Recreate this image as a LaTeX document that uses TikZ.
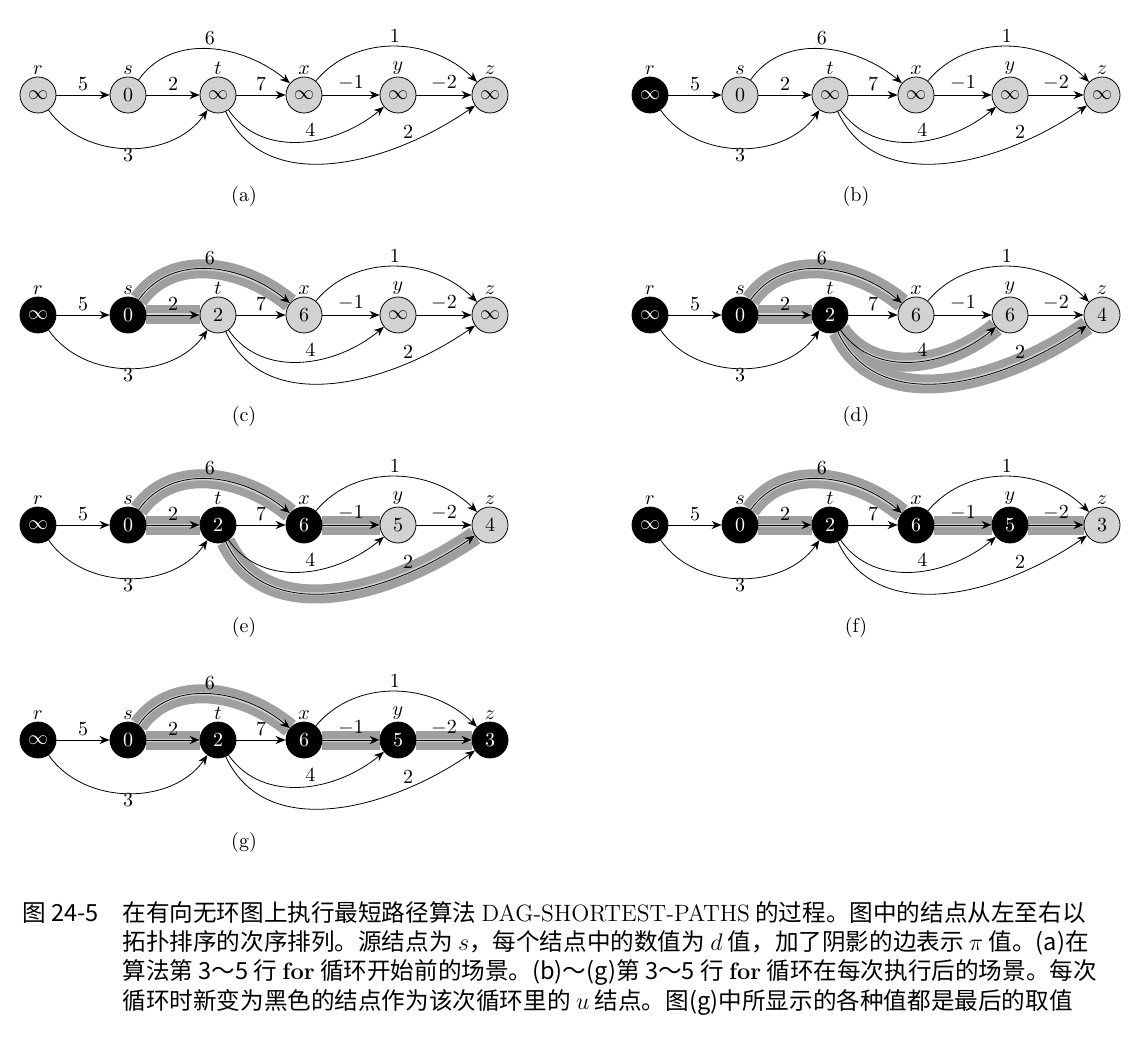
\documentclass[tikz,border=0pt]{standalone}
\usepackage{fontspec}
\newfontfamily\cjk{Noto Sans CJK SC}
\usetikzlibrary{backgrounds,arrows.meta}

% one panel of the DAG run: shift, prefix, no. of black nodes, d values, shaded edges
\newcommand\dagpanel[6]{%
  \begin{scope}[shift={#1}]
    \foreach \n/\px in {r/0,s/90,t/180,x/266,y/360,z/452}
      \coordinate (c\n) at (\px,0);
    \foreach \n/\v [count=\i] in {#4}{
      \ifnum\i>#3 \def\vst{vnew}\else\def\vst{vdone}\fi
      \node[\vst, label={[nlab]above:$\n$}] (#2\n) at (c\n) {$\v$};
    }
    % shaded edges
    \if\relax\detokenize{#5}\relax\else
      \begin{pgfonlayer}{background}
        \foreach \u/\w in {#5}
          \draw[band] (#2\u) to[e-\u\w] (#2\w);
      \end{pgfonlayer}
    \fi
    \foreach \u/\w/\l in {r/s/5,s/t/2,t/x/7,x/y/$-1$,y/z/$-2$,s/x/6,x/z/1,r/t/3,t/y/4,t/z/2}
      \draw[edge] (#2\u) to[e-\u\w] node[elab,l-\u\w] {\l} (#2\w);
    \node[panelcap] (#2cap) at (206,-102) {(#6)};
  \end{scope}}

\begin{document}
\begin{tikzpicture}[x=0.5pt, y=0.5pt,
  vnew/.style={circle, draw, fill=gray!35, minimum size=18pt, inner sep=0pt, font=\bfseries\fontsize{10}{12}\selectfont},
  vdone/.style={vnew, fill=black, text=white},
  nlab/.style={font=\fontsize{10}{12}\selectfont, inner sep=1pt},
  elab/.style={font=\fontsize{10}{12}\selectfont, inner sep=2pt},
  panelcap/.style={font=\fontsize{10}{12}\selectfont},
  edge/.style={-{Stealth[length=5pt,width=4pt]}, thin},
  band/.style={line width=4pt, draw=gray!75, double=gray!35, double distance=1.5pt},
  e-rs/.style={}, e-st/.style={}, e-tx/.style={}, e-xy/.style={}, e-yz/.style={},
  e-sx/.style={out=55, in=140}, e-xz/.style={out=50, in=135},
  e-rt/.style={out=-55, in=-125}, e-ty/.style={out=-55, in=-140},
  e-tz/.style={out=-65, in=-145},
  l-rs/.style={above}, l-st/.style={above}, l-tx/.style={above},
  l-xy/.style={above}, l-yz/.style={above}, l-sx/.style={above},
  l-xz/.style={above}, l-rt/.style={below, inner sep=0pt},
  l-ty/.style={pos=.55, above}, l-tz/.style={pos=.75, above}]
\useasboundingbox (0,0) rectangle (1136,-1048);

\dagpanel{(38,-95)}{a}{0}{r/\infty,s/0,t/\infty,x/\infty,y/\infty,z/\infty}{}{a}
\dagpanel{(650,-95)}{b}{1}{r/\infty,s/0,t/\infty,x/\infty,y/\infty,z/\infty}{}{b}
\dagpanel{(38,-315)}{c}{2}{r/\infty,s/0,t/2,x/6,y/\infty,z/\infty}{s/t,s/x}{c}
\dagpanel{(650,-315)}{d}{3}{r/\infty,s/0,t/2,x/6,y/6,z/4}{s/t,s/x,t/y,t/z}{d}
\dagpanel{(38,-525)}{e}{4}{r/\infty,s/0,t/2,x/6,y/5,z/4}{s/t,s/x,x/y,t/z}{e}
\dagpanel{(650,-525)}{f}{5}{r/\infty,s/0,t/2,x/6,y/5,z/3}{s/t,s/x,x/y,y/z}{f}
\dagpanel{(38,-740)}{g}{6}{r/\infty,s/0,t/2,x/6,y/5,z/3}{s/t,s/x,x/y,y/z}{g}

% figure caption
\begin{scope}[every node/.style={anchor=west, inner sep=0pt, font=\cjk\fontsize{11.8}{14}\selectfont}]
  \node (fig) at (22,-913) {图 24-5};
  \node (l1) at (122,-913) {在有向无环图上执行最短路径算法 {\rmfamily DAG-SHORTEST-PATHS} 的过程。图中的结点从左至右以};
  \node (l2) at (122,-943) {拓扑排序的次序排列。源结点为 $s$，每个结点中的数值为 $d$ 值，加了阴影的边表示 $\pi$ 值。(a)在};
  \node (l3) at (122,-972) {算法第 3～5 行 {\rmfamily\bfseries for} 循环开始前的场景。(b)～(g)第 3～5 行 {\rmfamily\bfseries for} 循环在每次执行后的场景。每次};
  \node (l4) at (122,-1002) {循环时新变为黑色的结点作为该次循环里的 $u$ 结点。图(g)中所显示的各种值都是最后的取值};
\end{scope}
\end{tikzpicture}
\end{document}
